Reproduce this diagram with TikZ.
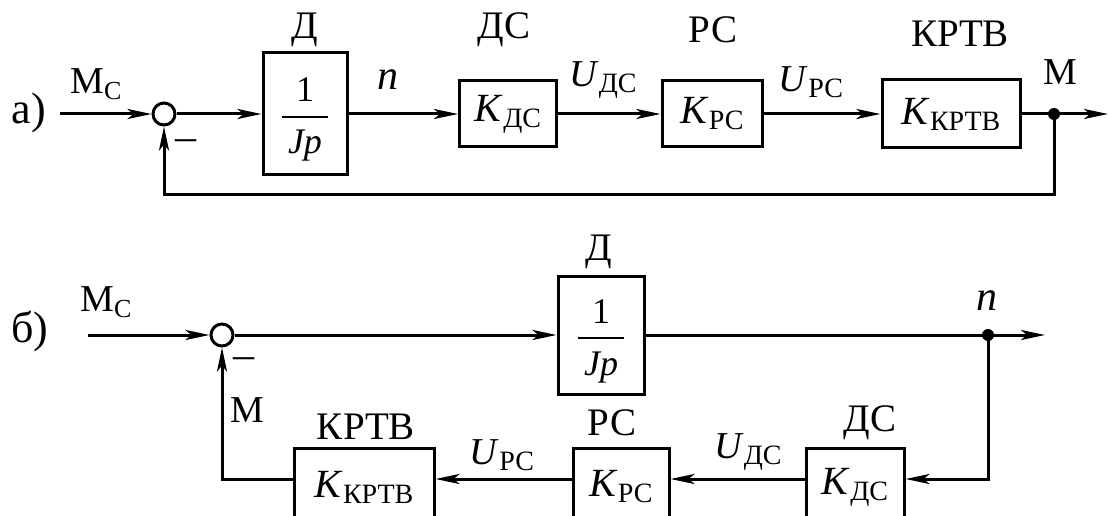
\documentclass[tikz,border=0pt]{standalone}
\usepackage{fontspec}
\setmainfont{Liberation Serif}
\usetikzlibrary{arrows.meta,calc}
\newcommand\mysub[1]{\raisebox{-6pt}{\fontsize{28}{28}\selectfont #1}}
\begin{document}
\begin{tikzpicture}[x=1pt,y=-1pt,line width=3pt,
  blk/.style={draw,line width=3pt,minimum height=66pt,inner sep=0pt,font=\fontsize{40}{40}\selectfont},
  ttl/.style={font=\fontsize{39}{39}\selectfont,inner sep=0pt},
  sig/.style={font=\fontsize{38}{38}\selectfont,inner sep=0pt},
  lbl/.style={font=\fontsize{44}{44}\selectfont,inner sep=0pt},
  frc/.style={font=\fontsize{36}{36}\selectfont,inner sep=0pt,anchor=base},
  minus/.style={font=\fontsize{42}{42}\selectfont,inner sep=0pt},
  sumc/.style={draw,circle,line width=3pt,minimum size=22pt,inner sep=0pt},
  dotn/.style={fill,circle,minimum size=12pt,inner sep=0pt},
  arr/.style={-{Stealth[length=24pt,width=10pt,inset=6pt]}},
  bar/.style={line width=2pt}
]
\useasboundingbox (0,0) rectangle (1109,516);
\clip (0,0) rectangle (1109,516);

% ---------- a) ----------
\node[lbl] (la) at (29,113) {а)};
\coordinate (in1) at (60,114);
\node[sumc] (S1) at (164,114) {};
\node[blk,minimum width=84pt,minimum height=122pt] (D1) at (305,114) {};
\node[frc] (D1n) at ($(D1.center)+(0,-12)$) {1};
\draw[bar] ($(D1.center)+(-23,3)$) -- ($(D1.center)+(23,3)$);
\node[frc] (D1d) at ($(D1.center)+(0,40)$) {\textit{Jp}};
\node[blk,minimum width=97pt] (DS1) at (508,114) {\textit{K}\mysub{ДС}};
\node[blk,minimum width=100pt] (RS1) at (712,114) {\textit{K}\mysub{РС}};
\node[blk,minimum width=138pt,minimum height=68pt] (KR1) at (951,114) {\textit{K}\mysub{КРТВ}};
\node[dotn] (J1) at (1054,114) {};
\coordinate (out1) at (1108,114);
\coordinate (fb1) at (0,195);

\node[ttl] (tD1) at (305,30) {Д};
\node[ttl] (tDS1) at (504,30) {ДС};
\node[ttl] (tRS1) at (713,30) {РС};
\node[ttl] (tKR1) at (960,34) {КРТВ};
\node[sig] (Mc1) at (96,84) {М\raisebox{-6pt}{\fontsize{26}{26}\selectfont С}};
\node[sig,font=\fontsize{42}{42}\selectfont] (n1) at (388,80) {\textit{n}};
\node[sig] (U1) at (603,80) {\textit{U}\mysub{ДС}};
\node[sig] (U2) at (811,82) {\textit{U}\mysub{РС}};
\node[sig] (M1) at (1060,72) {М};
\node[minus] (m1) at (186,145) {–};

\draw[arr] (in1) -- (S1.west);
\draw[arr] (S1.east) -- (D1.west);
\draw[arr] (D1.east) -- (DS1.west);
\draw[arr] (DS1.east) -- (RS1.west);
\draw[arr] (RS1.east) -- (KR1.west);
\draw[arr] (KR1.east) -- (out1);
\draw[arr] (J1.center) -- (J1.center |- fb1) -| (S1.south);

% ---------- b) ----------
\node[lbl] (lb) at (30,331) {б)};
\coordinate (in2) at (88,335);
\node[sumc] (S2) at (222,335) {};
\node[blk,minimum width=86pt,minimum height=118pt] (D2) at (601,335) {};
\node[frc] (D2n) at ($(D2.center)+(0,-12)$) {1};
\draw[bar] ($(D2.center)+(-23,3)$) -- ($(D2.center)+(23,3)$);
\node[frc] (D2d) at ($(D2.center)+(0,40)$) {\textit{Jp}};
\node[dotn] (J2) at (988,335) {};
\coordinate (out2) at (1045,335);
\node[blk,minimum width=98pt,minimum height=78pt] (DS2) at (855,487) {\textit{K}\mysub{ДС}};
\node[blk,minimum width=96pt,minimum height=78pt] (RS2) at (621,487) {\textit{K}\mysub{РС}};
\node[blk,minimum width=140pt,minimum height=78pt] (KR2) at (364,487) {\textit{K}\mysub{КРТВ}};
\coordinate (L2) at (0,479);

\node[ttl] (tD2) at (599,252) {Д};
\node[ttl] (tDS2) at (870,423) {ДС};
\node[ttl] (tRS2) at (612,423) {РС};
\node[ttl] (tKR2) at (366,427) {КРТВ};
\node[sig] (Mc2) at (106,302) {М\raisebox{-6pt}{\fontsize{26}{26}\selectfont С}};
\node[sig,font=\fontsize{42}{42}\selectfont] (n2) at (987,301) {\textit{n}};
\node[sig] (U3) at (748,452) {\textit{U}\mysub{ДС}};
\node[sig] (U4) at (502,455) {\textit{U}\mysub{РС}};
\node[sig] (M2) at (247,410) {М};
\node[minus] (m2) at (244,363) {–};

\draw[arr] (in2) -- (S2.west);
\draw[arr] (S2.east) -- (D2.west);
\draw[arr] (D2.east) -- (out2);
\draw[arr] (J2.center) |- (DS2.east |- L2);
\draw[arr] (DS2.west |- L2) -- (RS2.east |- L2);
\draw[arr] (RS2.west |- L2) -- (KR2.east |- L2);
\draw[arr] (KR2.west |- L2) -| (S2.south);
\end{tikzpicture}
\end{document}
